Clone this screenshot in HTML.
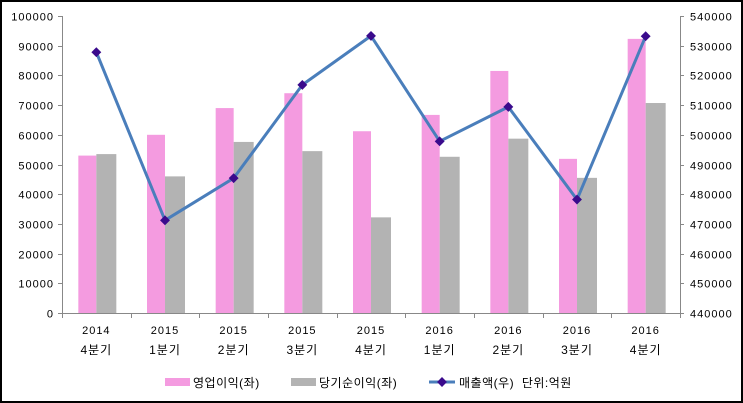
<!DOCTYPE html>
<html><head><meta charset="utf-8"><style>
body{margin:0;background:#fff}
svg{display:block;font-family:"Liberation Sans","Noto Sans CJK KR",sans-serif}
</style></head><body>
<svg width="743" height="403" viewBox="0 0 743 403" xmlns="http://www.w3.org/2000/svg">
<rect x="1" y="1" width="741" height="401" fill="#fff" stroke="#000" stroke-width="2"/>
<g id="bars"></g>
<g stroke="#888" stroke-width="1" fill="none">
<line x1="62.5" y1="16" x2="62.5" y2="313"/>
<line x1="680.5" y1="16" x2="680.5" y2="313"/>
<line x1="62" y1="313.5" x2="680" y2="313.5"/>
</g>
<g id="ticks" stroke="#888" stroke-width="1"></g>
<g id="labels" font-size="11" fill="#000" letter-spacing="1"></g>
<polyline id="line" fill="none" stroke="#4a7ebb" stroke-width="3" stroke-linejoin="round"/>
<g id="marks" fill="#3a0a8c"></g>
<g font-size="12" fill="#000" letter-spacing="0.5">
<rect x="165" y="378" width="25" height="8" fill="#f49be0"/>
<text x="193" y="387">영업이익(좌)</text>
<rect x="291" y="378" width="25" height="8" fill="#b3b3b3"/>
<text x="319" y="387">당기순이익(좌)</text>
<line x1="429" y1="382" x2="455" y2="382" stroke="#4a7ebb" stroke-width="3"/>
<rect x="438.5" y="378.5" width="7" height="7" transform="rotate(45 442 382)" fill="#3a0a8c"/>
<text x="459" y="387" xml:space="preserve">매출액(우)  단위:억원</text>
</g>
</svg>
<script>
const P=[53000,60000,69000,74000,61200,66700,81500,51900,92300];
const G=[53500,46000,57600,54500,32200,52600,58700,45500,70700];
const L=[527800,471200,485400,516800,533300,497800,509400,478200,533200];
const yr=['2014','2015','2015','2015','2015','2016','2016','2016','2016'];
const q=['4분기','1분기','2분기','3분기','4분기','1분기','2분기','3분기','4분기'];
const ns='http://www.w3.org/2000/svg';
function el(t,a,p,txt){const e=document.createElementNS(ns,t);for(const k in a)e.setAttribute(k,a[k]);if(txt!=null)e.textContent=txt;document.getElementById(p).appendChild(e);return e;}
const yl=v=>313-v/100000*297, yrr=v=>313-(v-440000)/100000*297;
const w=618/9;let pts=[];
for(let i=0;i<9;i++){const c=62+w*(i+0.5);
el('rect',{x:c-18,y:yl(P[i]),width:18,height:313-yl(P[i]),fill:'#f49be0'},'bars');
el('rect',{x:c,y:yl(G[i]),width:20,height:313-yl(G[i]),fill:'#b3b3b3'},'bars');
el('text',{x:c,y:334,'text-anchor':'middle'},'labels',yr[i]);
el('text',{x:c,y:354,'text-anchor':'middle','font-size':12},'labels',q[i]);
const y=yrr(L[i]);pts.push(c+','+y);
el('rect',{x:c-3.5,y:y-3.5,width:7,height:7,transform:`rotate(45 ${c} ${y})`},'marks');
}
document.getElementById('line').setAttribute('points',pts.join(' '));
for(let i=0;i<=9;i++){const x=Math.round(62+w*i)+.5;el('line',{x1:x,y1:313,x2:x,y2:318},'ticks');}
for(let k=0;k<=10;k++){const y=Math.round(313-k*29.7)+.5;
el('line',{x1:58,y1:y,x2:62,y2:y},'ticks');el('line',{x1:680,y1:y,x2:684,y2:y},'ticks');
el('text',{x:54,y:y+4,'text-anchor':'end'},'labels',String(k*10000));
el('text',{x:690,y:y+4},'labels',String(440000+k*10000));}
</script>
</body></html>
